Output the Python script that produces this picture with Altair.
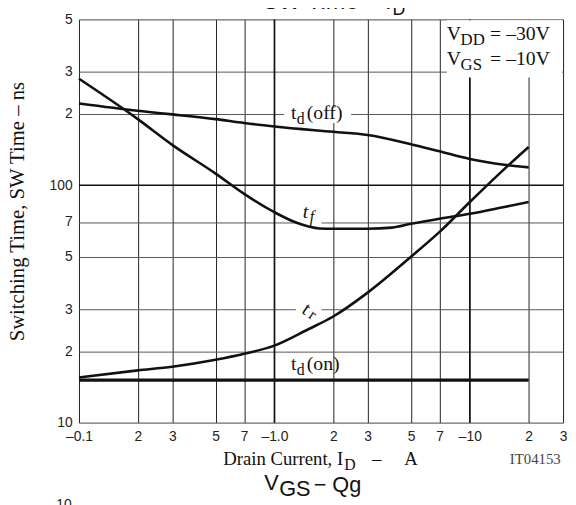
import altair as alt
import pandas as pd

# ---- data (Drain current in A, time in ns) ----
x_td_off = [0.1, 0.2, 0.3, 0.5, 0.7, 1.0, 2, 3, 5, 7, 10, 15, 20]
y_td_off = [221, 206, 199, 190, 183, 177, 168, 163, 149, 139, 129, 122, 119]

x_tf = [0.1, 0.2, 0.3, 0.5, 0.7, 1.0, 1.3, 1.7, 2, 3, 4, 5, 7, 10, 15, 20]
y_tf = [281, 190, 148, 112, 92, 77, 69.5, 65.8, 65.6, 65.6, 66.3, 68.8, 72.3, 75.8, 81, 85]

x_tr = [0.1, 0.2, 0.3, 0.5, 0.7, 1.0, 1.5, 2, 3, 5, 7, 10, 15, 20]
y_tr = [15.5, 16.6, 17.2, 18.4, 19.5, 21.1, 24.8, 28, 35.3, 50, 63.6, 85, 117, 145]

x_td_on = [0.1, 20]
y_td_on = [15.1, 15.1]

x_ticks = [0.1, 0.2, 0.3, 0.5, 0.7, 1, 2, 3, 5, 7, 10, 20, 30]
y_ticks = [10, 20, 30, 50, 70, 100, 200, 300, 500]
decades_x = [1, 10]
decades_y = [100]

frames = []
for name, xs_, ys_ in [("td_off", x_td_off, y_td_off), ("tf", x_tf, y_tf),
                       ("tr", x_tr, y_tr), ("td_on", x_td_on, y_td_on)]:
    frames.append(pd.DataFrame({"series": name, "I": xs_, "t": ys_}))
df = pd.concat(frames, ignore_index=True)

xs = alt.Scale(type="log", domain=[0.1, 30], nice=False)
ys = alt.Scale(type="log", domain=[10, 500], nice=False)

x_label_expr = ("datum.value==0.1?'\u20130.1':datum.value==1?'\u20131.0':datum.value==10?'\u201310':"
                "toString(round(datum.value/pow(10,floor(log(datum.value)/LN10+1e-9))))")
y_label_expr = ("datum.value==100?'100':datum.value==10?'10':"
                "toString(round(datum.value/pow(10,floor(log(datum.value)/LN10+1e-9))))")

x_axis = alt.Axis(values=x_ticks, labelExpr=x_label_expr, title=None,
                  grid=True, gridColor="#222", gridWidth=1, ticks=False,
                  tickSize=0, domain=False, labelFont="Liberation Sans",
                  labelFontSize=14, labelColor="#222", labelPadding=7,
                  labelOverlap=False, labelFlush=False)
y_axis = alt.Axis(values=y_ticks, labelExpr=y_label_expr, title=None,
                  grid=True, gridColor="#555", gridWidth=1, ticks=False,
                  tickSize=0, domain=False, labelFont="Liberation Sans",
                  labelFontSize=14, labelColor="#222", labelPadding=7,
                  labelOverlap=False)

curves = alt.Chart(df).mark_line(color="#111", interpolate="monotone").encode(
    x=alt.X("I:Q", scale=xs, axis=x_axis),
    y=alt.Y("t:Q", scale=ys, axis=y_axis),
    detail="series:N",
    strokeWidth=alt.condition("datum.series == 'td_on'", alt.value(3.3), alt.value(2.6)),
)

vrules = alt.Chart(pd.DataFrame({"v": decades_x})).mark_rule(color="#111", strokeWidth=1.6).encode(
    x=alt.X("v:Q", scale=xs, axis=x_axis))
hrules = alt.Chart(pd.DataFrame({"v": decades_y})).mark_rule(color="#111", strokeWidth=1.6).encode(
    y=alt.Y("v:Q", scale=ys, axis=y_axis))


def box(x1, x2, y1, y2):
    return alt.Chart(pd.DataFrame({"a": [0]})).mark_rect(color="white").encode(
        x=alt.value(x1), x2=alt.value(x2), y=alt.value(y1), y2=alt.value(y2))


def txt(s, x, y, size=20, font="Liberation Serif", align="left", angle=0, style="normal",
        color="#111"):
    return alt.Chart(pd.DataFrame({"s": [s]})).mark_text(
        align=align, baseline="alphabetic", font=font, fontSize=size, fontStyle=style,
        color=color, angle=angle).encode(x=alt.value(x), y=alt.value(y), text="s:N")


boxes = [
    box(208, 276, 90, 105),    # behind td(off)
    box(220, 246, 197, 208),   # behind tf
    box(220, 246, 289, 300),   # behind tr
    box(373, 490, 1, 59),      # condition box
]

texts = [
    txt("SW Time   \u2013   I", 317, -11, size=24, font="Liberation Sans", align="right"),
    txt("D", 318, -4, size=18, font="Liberation Sans"),
    txt("t", 215, 101), txt("d", 221, 106, size=16), txt("(off)", 231, 101),
    txt("t", 227, 201, style="italic"), txt("f", 234, 206, size=16, style="italic"),
    txt("t", 225, 297, angle=35), txt("r", 232, 302, size=16, angle=35),
    txt("t", 215, 356), txt("d", 221, 361, size=16), txt("(on)", 231, 356),
    txt("V", 373, 21), txt("DD", 387, 26, size=17), txt("= \u201330V", 417, 21),
    txt("V", 373, 46), txt("GS", 387, 51, size=17), txt("= \u201310V", 417, 46),
    txt("Drain Current, I", 268, 452, size=19, align="right"),
    txt("D", 269, 457, size=16),
    txt("\u2013", 302, 452, size=19, align="center"),
    txt("A", 330, 452, size=19),
    txt("Switching Time, SW Time    \u2013    ns", -56, 195, size=21, align="center", angle=270),
    txt("IT04153", 437, 451, size=15, color="#444"),
    txt("V", 188, 477, size=22, font="Liberation Sans"),
    txt("GS", 203, 483, size=22, font="Liberation Sans"),
    txt("\u2212 Qg", 238, 479, size=22, font="Liberation Sans"),
    txt("10", -23, 497, size=14, font="Liberation Sans", color="#222"),
]

chart = alt.layer(vrules, hrules, *boxes, curves, *texts).properties(
    width=491, height=409,
    autosize=alt.AutoSizeParams(type="none"),
    padding={"left": 72, "top": 8, "right": 5, "bottom": 80},
).configure_view(stroke="#111", strokeWidth=1.5).configure(background="white")

chart.save("out.html", embed_options={"renderer": "svg", "actions": False})
